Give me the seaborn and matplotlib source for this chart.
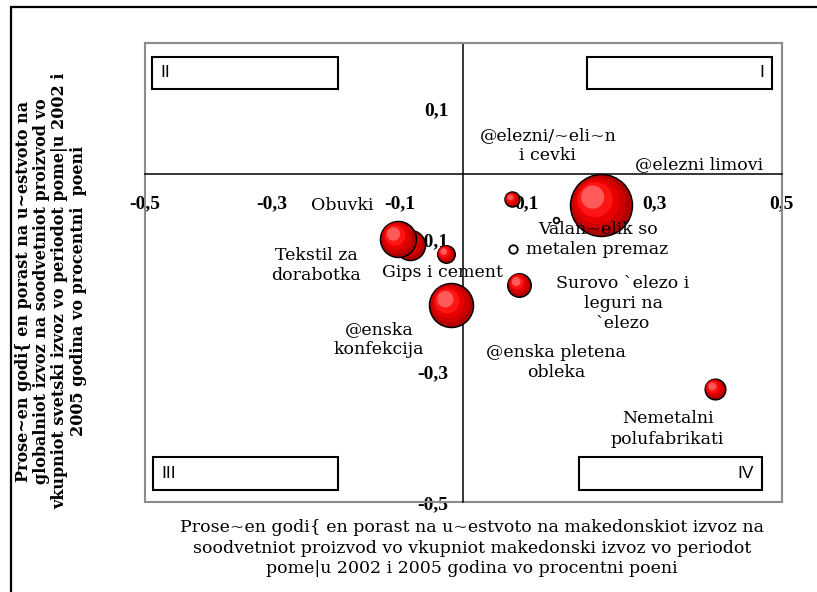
import numpy as np
import pandas as pd
import seaborn as sns
import matplotlib.pyplot as plt
from matplotlib.patches import Rectangle
from matplotlib import transforms

# podatoci (procentni poeni)
proizvodi = ["Obuvki", "Tekstil za dorabotka", "@elezni limovi",
             "@elezni/~eli~ni cevki", "Valan~elik so metalen premaz",
             "Surovo `elezo i leguri na `elezo", "@enska pletena obleka",
             "Gips i cement", "@enska konfekcija", "Nemetalni polufabrikati"]
mk_udel = [-0.084, -0.102, 0.216, 0.077, 0.146, 0.078, 0.088, -0.027, -0.019, 0.395]
svet_udel = [-0.107, -0.098, -0.047, -0.038, -0.070, -0.113, -0.168, -0.121, -0.199, -0.327]
izvoz = [2.25, 3.24, 9.6, 0.56, -0.08, -0.18, 1.37, 0.76, 4.84, 1.06]

x_ticks = [-0.5, -0.3, -0.1, 0.1, 0.3, 0.5]
x_tick_labels = ["-0,5", "-0,3", "-0,1", "0,1", "0,3", "0,5"]
y_ticks = [0.1, -0.1, -0.3, -0.5]
y_tick_labels = ["0,1", "-0,1", "-0,3", "-0,5"]

# natpisi na balonite
natpisi = ["Obuvki", "Tekstil za\ndorabotka", "@elezni limovi",
           "@elezni/~eli~n\ni cevki", "Valan~elik so\nmetalen premaz",
           "Surovo `elezo i\nleguri na\n`elezo", "@enska pletena\nobleka",
           "Gips i cement", "@enska\nkonfekcija", "Nemetalni\npolufabrikati"]
natpis_x = [-0.190, -0.231, 0.370, 0.133, 0.211, 0.251, 0.146, -0.032, -0.132, 0.321]
natpis_y = [-0.047, -0.139, 0.015, 0.044, -0.099, -0.197, -0.287, -0.150, -0.252, -0.388]

df = pd.DataFrame({"proizvod": proizvodi, "x": mk_udel, "y": svet_udel, "izvoz": izvoz})
df["golemina"] = df["izvoz"].abs()

sns.set_style("white")
plt.rcParams["font.family"] = ["DejaVu Serif"]
plt.rcParams["text.color"] = "black"
plt.rcParams["xtick.color"] = "black"
plt.rcParams["ytick.color"] = "black"

fig = plt.figure(figsize=(8.17, 5.92), dpi=100)
ax = fig.add_axes([0.1771, 0.1512, 0.7797, 0.7757])

k = 207.4
gmin, gmax = df["golemina"].min(), df["golemina"].max()
sloevi = [(1.0, "#b00000"), (0.75, "#cc0000"), (0.52, "#e80000"),
          (0.32, "#ff1414"), (0.14, "#ff5a5a")]

# baloni, eden po eden za pravilno preklopuvanje
for i in range(len(df)):
    red = df.iloc[[i]]
    r_pt = np.sqrt(k * red["golemina"].iloc[0]) / 2
    if red["izvoz"].iloc[0] < 0:
        sns.scatterplot(data=red, x="x", y="y", size="golemina",
                        sizes=(k * gmin, k * gmax), size_norm=(gmin, gmax),
                        color="white", edgecolor="black", linewidth=1.3,
                        legend=False, ax=ax, zorder=3 + i * 0.1)
        continue
    for j, (f, c) in enumerate(sloevi):
        d = 0.42 * r_pt * (1 - np.sqrt(f))
        tr = transforms.offset_copy(ax.transData, fig=fig, x=-d, y=d, units="points")
        sns.scatterplot(data=red, x="x", y="y", size="golemina",
                        sizes=(k * f * gmin, k * f * gmax), size_norm=(gmin, gmax),
                        color=c, edgecolor="black" if j == 0 else "none",
                        linewidth=1.1 if j == 0 else 0, transform=tr,
                        legend=False, ax=ax, zorder=3 + i * 0.1 + j * 0.01)

for t, tx, ty in zip(natpisi, natpis_x, natpis_y):
    ax.text(tx, ty, t, ha="center", va="center", multialignment="center",
            fontsize=12.5, linespacing=1.25, color="black", zorder=10)

ax.set_xlabel("")
ax.set_ylabel("")

ax.spines["left"].set_position(("data", 0))
ax.spines["bottom"].set_position(("data", 0))
for s in ["left", "bottom"]:
    ax.spines[s].set_color("black")
    ax.spines[s].set_linewidth(1.1)
for s in ["top", "right"]:
    ax.spines[s].set_color("#8c8c8c")
    ax.spines[s].set_linewidth(1.5)
ax.add_patch(Rectangle((0, 0), 1, 1, transform=ax.transAxes, fill=False,
                       edgecolor="#8c8c8c", linewidth=1.5, clip_on=False, zorder=1))

ax.set_xlim(-0.5, 0.5)
ax.set_ylim(-0.5, 0.2)
ax.tick_params(axis="x", direction="out", length=5, width=1.1, pad=10,
               color="black", labelsize=14)
ax.tick_params(axis="y", direction="out", length=4.5, width=1.1, pad=6,
               color="black", labelsize=14)
ax.set_xticks(x_ticks)
ax.set_xticklabels(x_tick_labels, fontfamily="Liberation Serif",
                   fontweight="bold", fontsize=14)
ax.set_yticks(y_ticks)
ax.set_yticklabels(y_tick_labels, fontfamily="Liberation Serif",
                   fontweight="bold", fontsize=14)

# kvadranti
kutii = [(0.0122, 0.900, 0.291, "II", "left"), (0.694, 0.900, 0.290, "I", "right"),
         (0.0135, 0.0272, 0.290, "III", "left"), (0.682, 0.0272, 0.287, "IV", "right")]
for bx, by, bw, lab, poz in kutii:
    ax.add_patch(Rectangle((bx, by), bw, 0.0712, transform=ax.transAxes,
                           facecolor="white", edgecolor="black", linewidth=1.5, zorder=5))
    tx = bx + 0.012 if poz == "left" else bx + bw - 0.012
    ax.text(tx, by + 0.0356, lab, transform=ax.transAxes, ha=poz, va="center",
            fontfamily="Liberation Sans", fontsize=12.5, zorder=6)

fig.text(0.578, 0.0743,
         "Prose~en godi{ en porast na u~estvoto na makedonskiot izvoz na\n"
         "soodvetniot proizvod vo vkupniot makedonski izvoz vo periodot\n"
         "pome|u 2002 i 2005 godina vo procentni poeni",
         ha="center", va="center", multialignment="center",
         fontsize=12.5, linespacing=1.3)
fig.text(0.0624, 0.508,
         "Prose~en godi{ en porast na u~estvoto na\n"
         "globalniot izvoz na soodvetniot proizvod vo\n"
         "vkupniot svetski izvoz vo periodot pome|u 2002 i\n"
         "2005 godina vo procentni  poeni",
         ha="center", va="center", multialignment="center", rotation=90,
         fontsize=11.5, fontweight="bold", linespacing=1.1)

# nadvoresna ramka
fig.add_artist(Rectangle((11 / 817, -0.1), 1.2, 1.1 - 7.3 / 592,
                         transform=fig.transFigure, fill=False,
                         edgecolor="black", linewidth=1.6, clip_on=False))

fig.savefig("out.png", dpi=100)
